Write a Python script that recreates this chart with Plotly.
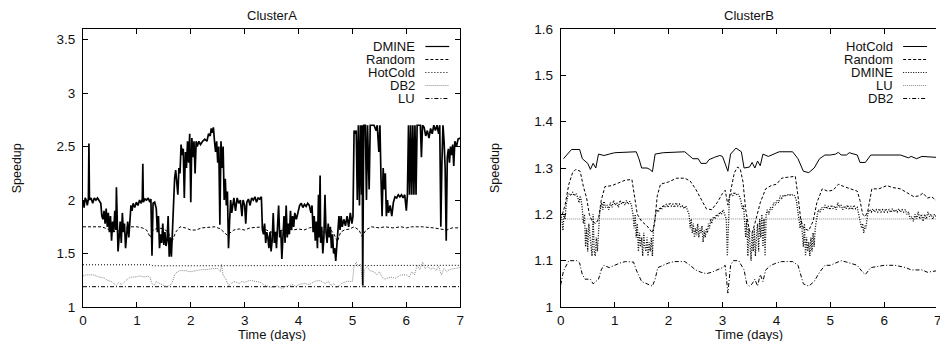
import plotly.graph_objects as go

# ---------------- ClusterA data (time in days, speedup) ----------------
A_DMINE_T = [0.00,0.02,0.04,0.06,0.08,0.10,0.11,0.12,0.15,0.18,0.21,0.24,0.27,0.30,0.33,0.35,0.37,0.39,0.41,0.43,
             0.45,0.47,0.49,0.51,0.53,0.55,0.57,0.59,0.61,0.62,0.63,0.65,0.67,0.69,0.71,0.73,0.75,0.77,0.79,0.81,
             0.83,0.85,0.87,0.89,0.91,0.93,0.96,0.99,1.02,1.05,1.08,1.10,1.11,1.12,1.15,1.18,1.21,1.24,1.26,1.28,
             1.30,1.33,1.36,1.38,1.40,1.42,1.44,1.46,1.48,1.50,1.52,1.54,1.56,1.58,1.60,1.62,1.64,1.66,1.68,1.70,
             1.72,1.74,1.76,1.78,1.80,1.82,1.84,1.86,1.88,1.90,1.92,1.94,1.96,1.98,2.00,2.02,2.04,2.06,2.08,2.10,
             2.12,2.15,2.18,2.22,2.26,2.30,2.33,2.36,2.38,2.40,2.42,2.44,2.46,2.48,2.50,2.52,2.54,2.56,2.58,2.60,
             2.62,2.64,2.66,2.68,2.70,2.72,2.74,2.76,2.78,2.80,2.83,2.86,2.89,2.92,2.95,2.97,3.00,3.02,3.04,3.07,
             3.10,3.13,3.16,3.19,3.22,3.25,3.28,3.31,3.33,3.35,3.37,3.39,3.41,3.43,3.45,3.47,3.49,3.51,3.53,3.55,
             3.57,3.59,3.61,3.63,3.65,3.67,3.69,3.71,3.73,3.75,3.77,3.79,3.81,3.83,3.85,3.87,3.89,3.91,3.93,3.96,
             3.99,4.02,4.05,4.08,4.11,4.14,4.17,4.20,4.23,4.25,4.27,4.29,4.31,4.33,4.35,4.37,4.38,4.40,4.41,4.43,
             4.45,4.47,4.49,4.51,4.53,4.55,4.57,4.59,4.61,4.63,4.65,4.67,4.69,4.71,4.73,4.75,4.77,4.79,4.81,4.84,
             4.87,4.90,4.93,4.96,4.99,5.01,5.03,5.05,5.07,5.09,5.11,5.13,5.15,5.17,5.18,5.19,5.21,5.24,5.26,5.28,
             5.31,5.33,5.36,5.40,5.44,5.46,5.49,5.51,5.53,5.55,5.57,5.59,5.61,5.63,5.65,5.67,5.70,5.73,5.76,5.79,
             5.82,5.85,5.88,5.91,5.94,5.97,6.00,6.02,6.04,6.06,6.08,6.10,6.12,6.14,6.16,6.18,6.20,6.23,6.26,6.28,
             6.30,6.33,6.36,6.39,6.42,6.45,6.48,6.51,6.54,6.57,6.60,6.62,6.64,6.66,6.68,6.70,6.72,6.74,6.76,6.78,
             6.80,6.82,6.84,6.86,6.88,6.90,6.93,6.96,7.00]
A_DMINE_V = [2.00,1.93,2.02,2.00,1.95,2.01,2.53,2.00,2.02,1.97,2.02,2.00,2.02,1.99,1.97,1.85,1.82,1.90,1.78,1.92,
             1.75,1.88,1.70,1.85,1.62,1.80,1.70,1.90,1.72,2.12,1.75,1.52,1.65,1.80,1.60,1.88,1.70,1.78,1.55,1.72,
             1.80,1.65,1.85,1.95,1.90,1.97,1.93,1.98,1.95,2.00,1.97,2.01,2.34,1.98,2.01,2.00,2.02,1.98,2.01,1.48,
             1.97,1.98,1.92,1.70,1.85,1.55,1.68,1.60,1.78,1.58,1.70,1.57,1.62,1.85,1.47,1.65,1.47,1.72,2.05,2.20,
             2.28,2.18,2.05,2.30,2.25,2.52,2.42,2.48,2.02,2.45,2.30,2.55,2.35,2.62,1.98,2.58,2.40,2.55,2.25,2.55,
             2.50,2.55,2.52,2.55,2.57,2.55,2.62,2.60,2.67,2.63,2.68,2.55,2.45,2.55,2.35,2.50,1.77,2.55,2.30,2.50,
             2.00,2.20,1.95,2.08,1.55,1.80,2.00,1.88,1.98,2.02,1.90,2.02,1.97,2.00,1.85,2.00,1.95,1.78,1.98,2.01,
             1.95,2.02,2.00,2.03,1.98,2.02,2.01,2.03,1.72,1.68,1.78,1.60,1.70,1.65,1.55,1.70,1.52,1.62,1.88,1.60,
             1.70,1.55,1.75,1.95,1.65,1.72,1.45,1.62,1.85,1.60,1.95,1.65,1.78,1.68,1.90,1.72,1.85,1.75,1.88,1.82,
             1.90,1.95,1.97,1.93,1.96,1.94,1.97,1.95,1.88,1.95,1.70,1.85,1.62,1.80,1.55,2.05,1.65,2.23,1.60,1.75,
             1.50,1.65,2.05,1.70,1.60,1.78,1.65,1.75,1.55,1.68,1.50,1.55,1.43,1.60,1.75,1.85,1.72,1.85,1.75,1.82,
             1.76,1.85,1.75,1.88,1.78,1.85,2.65,2.62,2.65,2.00,2.70,1.95,2.70,2.05,2.70,1.20,2.70,2.70,2.00,2.70,
             2.10,2.70,2.70,2.70,2.65,2.70,2.45,2.70,2.20,1.85,2.30,2.10,2.25,1.85,2.00,1.88,1.95,1.85,1.98,2.03,
             2.02,2.05,2.03,2.05,2.02,2.05,1.90,2.05,2.70,2.05,2.70,2.05,2.70,2.05,2.70,2.05,2.70,2.70,2.70,2.40,
             2.70,2.68,2.60,2.65,2.58,2.67,2.62,2.70,2.65,2.70,2.62,2.70,1.75,2.35,2.70,2.55,2.30,1.62,2.40,2.48,
             2.35,2.50,2.42,2.52,2.32,2.55,2.50,2.57,2.58]

A_RANDOM_T = [0,0.2,0.35,0.45,0.55,0.62,0.66,0.75,0.85,1.0,1.1,1.18,1.25,1.3,1.4,1.5,1.58,1.65,1.72,1.8,
              1.9,2.0,2.1,2.2,2.35,2.45,2.55,2.62,2.68,2.72,2.8,2.9,3.0,3.1,3.25,3.35,3.4,3.5,3.6,3.7,
              3.8,3.9,4.0,4.1,4.2,4.3,4.4,4.5,4.6,4.66,4.72,4.78,4.85,4.95,5.03,5.12,5.18,5.25,5.35,5.5,
              5.6,5.75,5.9,6.0,6.1,6.3,6.5,6.65,6.75,6.85,7.0]
A_RANDOM_V = [1.75,1.75,1.75,1.73,1.71,1.70,1.71,1.73,1.75,1.75,1.74,1.72,1.65,1.72,1.74,1.73,1.70,1.61,1.70,1.75,
              1.74,1.72,1.72,1.74,1.75,1.75,1.73,1.70,1.67,1.69,1.72,1.73,1.72,1.74,1.75,1.75,1.72,1.70,1.70,1.72,
              1.73,1.72,1.73,1.72,1.74,1.75,1.72,1.69,1.72,1.68,1.61,1.70,1.72,1.73,1.75,1.72,1.66,1.72,1.75,1.74,
              1.75,1.74,1.75,1.74,1.75,1.75,1.74,1.73,1.72,1.74,1.74]

A_HOTCOLD_T = [0, 1.25, 1.3, 2.55, 2.6, 7.0]
A_HOTCOLD_V = [1.395, 1.395, 1.385, 1.385, 1.39, 1.39]

A_DB2_T = [0,0.05,0.2,0.3,0.4,0.45,0.52,0.58,0.62,0.66,0.72,0.8,0.88,0.95,1.05,1.15,1.2,1.24,1.28,1.32,
           1.36,1.42,1.5,1.55,1.6,1.65,1.7,1.75,1.8,1.9,2.0,2.1,2.2,2.3,2.4,2.5,2.55,2.57,2.6,2.65,
           2.7,2.75,2.8,2.9,2.95,3.0,3.1,3.2,3.3,3.35,3.45,3.55,3.6,3.7,3.75,3.8,3.9,3.95,4.0,4.1,
           4.2,4.3,4.4,4.45,4.5,4.55,4.6,4.65,4.7,4.75,4.8,4.9,5.0,5.03,5.07,5.1,5.15,5.2,5.22,5.28,
           5.32,5.4,5.45,5.5,5.55,5.6,5.7,5.8,5.9,6.0,6.05,6.1,6.15,6.2,6.25,6.3,6.35,6.4,6.45,6.5,
           6.55,6.6,6.65,6.7,6.75,6.8,6.9,7.0]
A_DB2_V = [1.29,1.30,1.30,1.28,1.27,1.25,1.24,1.22,1.20,1.23,1.21,1.25,1.28,1.28,1.29,1.28,1.29,1.28,1.22,1.20,
           1.24,1.22,1.20,1.19,1.20,1.22,1.30,1.33,1.34,1.34,1.33,1.34,1.35,1.35,1.36,1.36,1.33,1.40,1.30,1.26,
           1.20,1.22,1.24,1.22,1.24,1.23,1.25,1.24,1.23,1.21,1.19,1.18,1.20,1.17,1.19,1.20,1.21,1.19,1.21,1.22,
           1.21,1.24,1.25,1.23,1.22,1.24,1.20,1.22,1.18,1.20,1.22,1.24,1.24,1.38,1.42,1.38,1.40,1.19,1.35,1.38,
           1.34,1.33,1.30,1.33,1.28,1.26,1.28,1.27,1.30,1.30,1.28,1.33,1.30,1.39,1.35,1.42,1.36,1.38,1.35,1.37,
           1.34,1.38,1.30,1.36,1.33,1.35,1.36,1.37]

A_LU_T = [0, 7.0]
A_LU_V = [1.19, 1.19]

# ---------------- ClusterB data ----------------
B_HOTCOLD_T = [0.05,0.15,0.2,0.35,0.4,0.5,0.55,0.6,0.65,0.7,0.8,0.9,1.0,1.4,1.45,1.5,1.6,1.65,1.7,1.75,
               1.9,2.3,2.35,2.45,2.55,2.6,2.7,2.75,2.85,2.95,3.0,3.1,3.15,3.25,3.35,3.4,3.5,3.55,3.6,3.65,
               3.7,3.75,3.85,3.95,4.05,4.3,4.4,4.5,4.6,4.7,4.8,4.9,5.0,5.1,5.15,5.2,5.3,5.35,5.5,5.55,
               5.65,5.75,6.0,6.3,6.45,6.5,6.6,6.7,6.96]
B_HOTCOLD_V = [1.320,1.335,1.340,1.340,1.320,1.310,1.297,1.310,1.300,1.330,1.327,1.330,1.333,1.335,1.320,1.300,1.300,1.297,1.292,1.330,
               1.333,1.335,1.330,1.320,1.320,1.310,1.310,1.318,1.323,1.327,1.325,1.293,1.330,1.343,1.335,1.300,1.302,1.312,1.300,1.315,
               1.305,1.330,1.325,1.330,1.335,1.335,1.320,1.293,1.290,1.300,1.320,1.328,1.328,1.330,1.334,1.328,1.328,1.333,1.328,1.312,
               1.312,1.328,1.328,1.328,1.322,1.325,1.320,1.325,1.323]

B_RANDOM_T = [0.03,0.08,0.15,0.22,0.28,0.36,0.42,0.48,0.53,0.58,0.65,0.70,0.75,0.82,0.95,1.1,1.2,1.32,1.36,1.42,
              1.5,1.6,1.7,1.74,1.79,1.85,2.0,2.15,2.3,2.4,2.5,2.6,2.7,2.8,2.9,3.0,3.05,3.1,3.15,3.22,
              3.28,3.33,3.38,3.43,3.5,3.55,3.6,3.7,3.8,3.9,4.0,4.1,4.2,4.35,4.4,4.45,4.5,4.6,4.68,4.75,
              4.85,4.95,5.05,5.15,5.25,5.4,5.5,5.55,5.6,5.65,5.7,5.77,5.9,6.05,6.15,6.3,6.45,6.55,6.65,6.72,
              6.8,6.88,6.96]
B_RANDOM_V = [1.200,1.220,1.265,1.290,1.297,1.293,1.260,1.235,1.200,1.185,1.180,1.190,1.230,1.260,1.262,1.270,1.274,1.275,1.245,1.200,
              1.185,1.175,1.160,1.180,1.240,1.265,1.270,1.278,1.278,1.272,1.255,1.235,1.212,1.210,1.225,1.245,1.252,1.220,1.250,1.290,
              1.302,1.298,1.270,1.210,1.165,1.160,1.180,1.225,1.255,1.262,1.265,1.278,1.280,1.282,1.240,1.190,1.170,1.165,1.185,1.225,
              1.255,1.250,1.252,1.265,1.260,1.255,1.250,1.230,1.200,1.195,1.210,1.255,1.255,1.262,1.258,1.255,1.245,1.238,1.240,1.246,
              1.235,1.238,1.230]

B_DMINE_T = [0.00,0.02,0.04,0.06,0.08,0.10,0.13,0.16,0.19,0.22,0.25,0.28,0.31,0.34,0.36,0.38,0.40,0.42,0.44,0.46,
             0.48,0.50,0.52,0.54,0.56,0.58,0.60,0.62,0.64,0.66,0.68,0.70,0.72,0.74,0.76,0.78,0.80,0.83,0.86,0.89,
             0.92,0.95,0.98,1.01,1.04,1.07,1.10,1.13,1.16,1.19,1.22,1.25,1.28,1.31,1.34,1.36,1.38,1.40,1.42,1.44,
             1.46,1.48,1.50,1.52,1.54,1.56,1.58,1.60,1.62,1.64,1.66,1.68,1.70,1.72,1.74,1.76,1.78,1.81,1.84,1.87,
             1.90,1.93,1.96,1.99,2.02,2.05,2.08,2.11,2.14,2.17,2.20,2.23,2.26,2.29,2.32,2.35,2.38,2.40,2.42,2.44,
             2.46,2.48,2.50,2.52,2.54,2.56,2.58,2.60,2.62,2.64,2.66,2.68,2.70,2.72,2.74,2.76,2.78,2.80,2.83,2.86,
             2.89,2.92,2.95,2.98,3.01,3.04,3.07,3.09,3.11,3.13,3.16,3.19,3.22,3.25,3.28,3.31,3.34,3.37,3.39,3.41,
             3.43,3.45,3.47,3.49,3.51,3.53,3.55,3.57,3.59,3.61,3.63,3.65,3.67,3.69,3.71,3.73,3.75,3.77,3.79,3.81,
             3.83,3.86,3.89,3.92,3.95,3.98,4.01,4.04,4.07,4.10,4.13,4.16,4.19,4.22,4.25,4.28,4.31,4.34,4.37,4.40,
             4.42,4.44,4.46,4.48,4.50,4.52,4.54,4.56,4.58,4.60,4.62,4.64,4.66,4.68,4.70,4.72,4.74,4.76,4.78,4.81,
             4.84,4.87,4.90,4.93,4.96,4.99,5.02,5.05,5.08,5.11,5.14,5.17,5.20,5.23,5.26,5.29,5.32,5.35,5.38,5.41,
             5.44,5.47,5.50,5.53,5.56,5.58,5.60,5.62,5.64,5.66,5.68,5.70,5.73,5.76,5.79,5.82,5.85,5.88,5.91,5.94,
             5.97,6.00,6.03,6.06,6.09,6.12,6.15,6.18,6.21,6.24,6.27,6.30,6.33,6.36,6.39,6.42,6.45,6.48,6.51,6.54,
             6.57,6.60,6.63,6.66,6.69,6.72,6.75,6.78,6.81,6.84,6.87,6.90,6.93,6.96]
B_DMINE_V = [1.200,1.190,1.165,1.200,1.190,1.220,1.240,1.245,1.240,1.248,1.240,1.245,1.238,1.225,1.240,1.230,1.210,1.180,1.200,1.130,
             1.170,1.120,1.180,1.150,1.140,1.110,1.200,1.120,1.110,1.150,1.120,1.180,1.200,1.215,1.225,1.210,1.228,1.215,1.220,1.210,
             1.225,1.215,1.230,1.220,1.225,1.215,1.230,1.222,1.228,1.220,1.230,1.222,1.228,1.220,1.200,1.170,1.200,1.150,1.180,1.120,
             1.160,1.130,1.150,1.110,1.160,1.130,1.120,1.150,1.110,1.140,1.120,1.150,1.110,1.170,1.190,1.200,1.210,1.205,1.215,1.210,
             1.220,1.215,1.222,1.215,1.225,1.218,1.222,1.215,1.225,1.218,1.222,1.215,1.218,1.212,1.218,1.210,1.200,1.170,1.190,1.160,
             1.180,1.150,1.170,1.155,1.180,1.150,1.170,1.160,1.175,1.140,1.165,1.150,1.170,1.160,1.180,1.170,1.190,1.180,1.195,1.190,
             1.200,1.195,1.205,1.200,1.210,1.200,1.190,1.110,1.200,1.240,1.245,1.240,1.248,1.242,1.245,1.240,1.230,1.210,1.220,1.180,
             1.150,1.190,1.110,1.170,1.140,1.100,1.160,1.120,1.170,1.110,1.150,1.180,1.120,1.190,1.150,1.200,1.130,1.190,1.110,1.200,
             1.210,1.200,1.215,1.210,1.225,1.220,1.230,1.225,1.240,1.235,1.242,1.238,1.243,1.240,1.244,1.240,1.243,1.240,1.230,1.200,
             1.185,1.170,1.190,1.150,1.130,1.180,1.110,1.150,1.120,1.140,1.110,1.150,1.120,1.160,1.130,1.170,1.190,1.200,1.210,1.205,
             1.215,1.210,1.220,1.212,1.218,1.210,1.220,1.212,1.218,1.210,1.225,1.215,1.220,1.210,1.218,1.212,1.220,1.210,1.218,1.210,
             1.220,1.212,1.215,1.200,1.180,1.170,1.180,1.160,1.175,1.170,1.190,1.205,1.210,1.205,1.212,1.205,1.210,1.205,1.212,1.205,
             1.210,1.205,1.212,1.205,1.210,1.204,1.212,1.205,1.210,1.205,1.212,1.205,1.210,1.205,1.210,1.200,1.205,1.190,1.195,1.185,
             1.200,1.190,1.205,1.190,1.200,1.185,1.200,1.190,1.205,1.195,1.200,1.190,1.200,1.195]

B_LU_T = [0, 6.96]
B_LU_V = [1.19, 1.19]

B_DB2_T = [0.0,0.05,0.15,0.3,0.35,0.4,0.45,0.55,0.6,0.65,0.7,0.75,0.8,0.9,1.0,1.1,1.2,1.35,1.4,1.5,
           1.6,1.7,1.75,1.8,1.9,2.0,2.1,2.3,2.4,2.5,2.6,2.7,2.8,2.9,3.0,3.05,3.1,3.15,3.2,3.3,
           3.4,3.45,3.5,3.55,3.6,3.65,3.7,3.75,3.8,3.9,4.0,4.1,4.3,4.4,4.45,4.5,4.6,4.7,4.8,4.9,
           5.0,5.1,5.2,5.3,5.5,5.6,5.65,5.75,6.0,6.2,6.4,6.5,6.7,6.8,6.96]
B_DB2_V = [1.048,1.078,1.100,1.100,1.095,1.070,1.060,1.060,1.050,1.055,1.060,1.080,1.090,1.085,1.090,1.095,1.098,1.097,1.080,1.055,
           1.050,1.045,1.060,1.085,1.090,1.095,1.098,1.098,1.090,1.080,1.075,1.072,1.075,1.080,1.085,1.090,1.030,1.090,1.100,1.100,
           1.080,1.050,1.045,1.050,1.060,1.045,1.070,1.055,1.080,1.090,1.095,1.098,1.098,1.090,1.070,1.050,1.045,1.055,1.075,1.090,
           1.090,1.095,1.100,1.097,1.090,1.075,1.070,1.085,1.090,1.090,1.085,1.080,1.080,1.075,1.078]

# ---------------- styling ----------------
FONT = "Liberation Sans, Arial, Helvetica, sans-serif"
W, H = 940, 341
ML, MR, MT, MB = 83, 0, 29, 34
PW = W - ML - MR
PH = H - MT - MB
A_RIGHT_PX = 462
B_LEFT_PX = 563
B_XMAX = 6.96

def fx(px):
    return (px - ML) / PW

def fy(py):
    return (H - MB - py) / PH

STY = {
    "solid": dict(color="black", width=1.0, dash="solid"),
    "solid_thick": dict(color="black", width=1.7, dash="solid"),
    "dash": dict(color="black", width=1.0, dash="3px,2px"),
    "dot": dict(color="black", width=1.0, dash="1px,2px"),
    "dotdense": dict(color="black", width=1.3, dash="1px,1.5px"),
    "grayfine": dict(color="#8a8a8a", width=1.0, dash="1px,1px"),
    "dashdot": dict(color="black", width=1.0, dash="4px,2px,1px,2px"),
}

A_SERIES = [("DMINE", A_DMINE_T, A_DMINE_V, "solid_thick"),
            ("Random", A_RANDOM_T, A_RANDOM_V, "dash"),
            ("HotCold", A_HOTCOLD_T, A_HOTCOLD_V, "dot"),
            ("DB2", A_DB2_T, A_DB2_V, "grayfine"),
            ("LU", A_LU_T, A_LU_V, "dashdot")]
B_SERIES = [("HotCold", B_HOTCOLD_T, B_HOTCOLD_V, "solid"),
            ("Random", B_RANDOM_T, B_RANDOM_V, "dash"),
            ("DMINE", B_DMINE_T, B_DMINE_V, "dotdense"),
            ("LU", B_LU_T, B_LU_V, "grayfine"),
            ("DB2", B_DB2_T, B_DB2_V, "dashdot")]

fig = go.Figure()
for name, t, v, s in reversed(A_SERIES):
    fig.add_trace(go.Scatter(x=t, y=v, mode="lines", name=name, line=STY[s],
                             xaxis="x", yaxis="y", showlegend=False))
for name, t, v, s in reversed(B_SERIES):
    fig.add_trace(go.Scatter(x=t, y=v, mode="lines", name=name, line=STY[s],
                             xaxis="x2", yaxis="y2", showlegend=False))

TICK_FONT = 13.5
axis_common = dict(showgrid=False, zeroline=False, showline=True, linecolor="black", linewidth=1,
                   ticks="inside", ticklen=5, tickcolor="black", tickwidth=1,
                   tickfont=dict(family=FONT, size=TICK_FONT, color="#111"))

fig.update_layout(
    width=W, height=H,
    margin=dict(l=ML, r=MR, t=MT, b=MB, pad=0),
    paper_bgcolor="white", plot_bgcolor="white",
    font=dict(family=FONT, size=13, color="#111"),
    xaxis=dict(domain=[0, fx(A_RIGHT_PX)], range=[0, 7], dtick=1, tick0=0, anchor="y",
               mirror="ticks", ticklabelstandoff=1, **axis_common),
    yaxis=dict(domain=[0, 1], range=[1, 3.6], dtick=0.5, tick0=1, anchor="x",
               mirror="ticks", ticklabelstandoff=4, **axis_common),
    xaxis2=dict(domain=[fx(B_LEFT_PX), 1], range=[0, B_XMAX], dtick=1, tick0=0, anchor="y2",
                mirror="ticks", ticklabelstandoff=1, **axis_common),
    yaxis2=dict(domain=[0, 1], range=[1, 1.6], dtick=0.1, tick0=1, anchor="x2",
                mirror=False, ticklabelstandoff=4, **axis_common),
)

ann = []
shapes = []
centerA = (ML + A_RIGHT_PX) / 2
centerB = (B_LEFT_PX + B_LEFT_PX + 7 * (W - B_LEFT_PX) / B_XMAX) / 2
for cx, title, ylab_px in [(centerA, "ClusterA", 17), (centerB, "ClusterB", 497)]:
    ann.append(dict(text=title, x=fx(cx), y=fy(15.5), xref="paper", yref="paper",
                    showarrow=False, xanchor="center", yanchor="middle", font=dict(size=13)))
    ann.append(dict(text="Time (days)", x=fx(cx), y=fy(334), xref="paper", yref="paper",
                    showarrow=False, xanchor="center", yanchor="middle", font=dict(size=13)))
    ann.append(dict(text="Speedup", x=fx(ylab_px), y=fy(168), xref="paper", yref="paper",
                    showarrow=False, xanchor="center", yanchor="middle", textangle=-90,
                    font=dict(size=12.5)))

x7 = B_LEFT_PX + 7 * (W - B_LEFT_PX) / B_XMAX
ann.append(dict(text="7", x=fx(x7), y=fy(320), xref="paper", yref="paper", showarrow=False,
                xanchor="center", yanchor="middle", font=dict(size=TICK_FONT, color="#111")))

def legend(series, text_right_px, sample_l_px, sample_r_px):
    for i, (name, _, _, s) in enumerate(series):
        ypx = 46.5 + 13 * i
        ann.append(dict(text=name, x=fx(text_right_px), y=fy(ypx), xref="paper", yref="paper",
                        showarrow=False, xanchor="right", yanchor="middle", font=dict(size=13),
                        borderpad=0))
        st = STY[s]
        shapes.append(dict(type="line", xref="paper", yref="paper",
                           x0=fx(sample_l_px), x1=fx(sample_r_px), y0=fy(ypx), y1=fy(ypx),
                           line=dict(color=st["color"], width=min(st["width"], 1.2), dash=st["dash"])))

legend(A_SERIES, 418, 427, 451)
legend(B_SERIES, 898, 907, 931)

fig.update_layout(annotations=ann, shapes=shapes)
fig.write_html("out.html", config={"displayModeBar": False, "staticPlot": True},
               post_script="document.body.style.margin='0';document.body.style.padding='0';")
